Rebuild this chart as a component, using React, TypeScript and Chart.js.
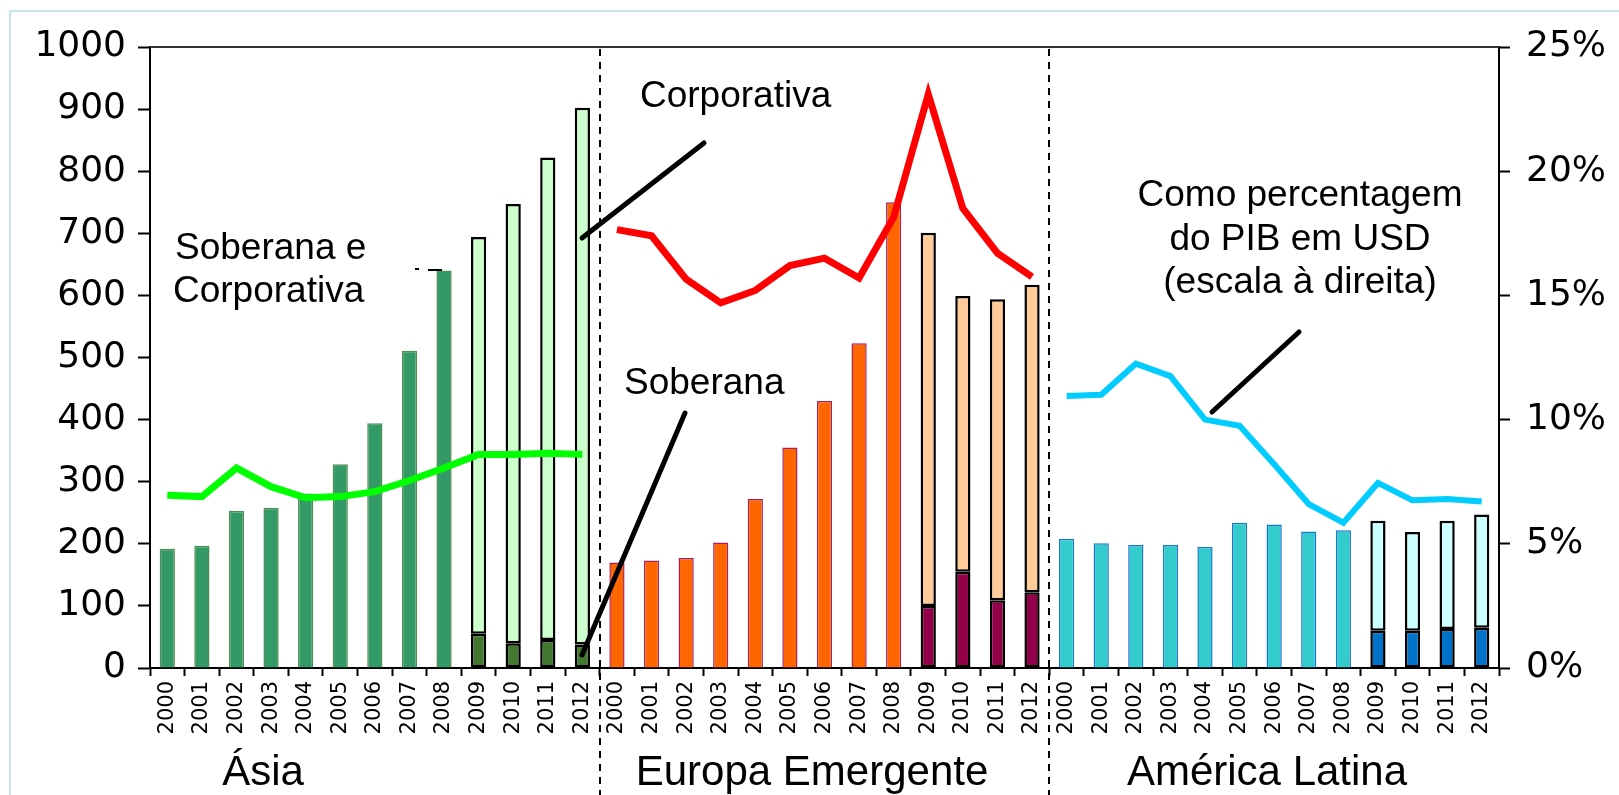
import React, { useEffect, useRef } from 'react';
import { Chart, registerables } from 'chart.js';

Chart.register(...registerables);

// ---------- DATA ----------
const years = ['2000', '2001', '2002', '2003', '2004', '2005', '2006', '2007', '2008', '2009', '2010', '2011', '2012'];
const regionNames = ['Ásia', 'Europa Emergente', 'América Latina'];

// Total debt (left axis, USD bn)
const asiaTotal = [192, 197, 253, 258, 281, 328, 394, 511, 640, 694, 747, 822, 902];
const europeTotal = [170, 173, 177, 202, 272, 355, 430, 523, 750, 701, 599, 594, 617];
const latamTotal = [208, 201, 198, 198, 195, 234, 231, 220, 222, 237, 219, 237, 247];

// Sovereign part (only split from 2009)
const asiaSov = [null, null, null, null, null, null, null, null, null, 55, 40, 45, 38];
const europeSov = [null, null, null, null, null, null, null, null, null, 100, 155, 109, 122];
const latamSov = [null, null, null, null, null, null, null, null, null, 60, 60, 63, 65];

// As % of GDP in USD (right axis)
const asiaPct = [6.95, 6.9, 8.05, 7.3, 6.85, 6.9, 7.1, 7.55, 8.05, 8.6, 8.6, 8.65, 8.6];
const europePct = [17.65, 17.4, 15.65, 14.7, 15.2, 16.2, 16.5, 15.7, 18.15, 23.1, 18.5, 16.7, 15.75];
const latamPct = [10.95, 11.0, 12.25, 11.75, 10.0, 9.75, 8.2, 6.6, 5.85, 7.45, 6.75, 6.8, 6.7];

const leftTicks = [0, 100, 200, 300, 400, 500, 600, 700, 800, 900, 1000];
const rightTicks = [0, 5, 10, 15, 20, 25];

// ---------- STYLES ----------
const palette = [
  { total: '#339966', totalBorder: '#4b8f4f', sov: '#43782f', corp: '#ccffcc', line: '#00ff00' },
  { total: '#ff6600', totalBorder: '#a3235f', sov: '#930049', corp: '#ffcc99', line: '#ff0000' },
  { total: '#33cccc', totalBorder: '#1a78cc', sov: '#0072c9', corp: '#ccffff', line: '#00ccff' },
];

const totals = [asiaTotal, europeTotal, latamTotal];
const sovs = [asiaSov, europeSov, latamSov];
const pcts = [asiaPct, europePct, latamPct];

const labels: string[] = [];
regionNames.forEach(() => years.forEach((y) => labels.push(y)));

function buildDatasets() {
  const preData: (number | null)[] = [];
  const sovData: (number | null)[] = [];
  const corpData: (number | null)[] = [];
  const preBg: string[] = [];
  const preBorder: string[] = [];
  const sovBg: string[] = [];
  const corpBg: string[] = [];
  totals.forEach((tot, r) => {
    tot.forEach((v, i) => {
      const s = sovs[r][i];
      if (s === null) {
        preData.push(v);
        sovData.push(null);
        corpData.push(null);
      } else {
        preData.push(null);
        sovData.push(s);
        corpData.push(v - s);
      }
      preBg.push(palette[r].total);
      preBorder.push(palette[r].totalBorder);
      sovBg.push(palette[r].sov);
      corpBg.push(palette[r].corp);
    });
  });

  const lineSets = pcts.map((p, r) => {
    const data: (number | null)[] = [];
    pcts.forEach((_, rr) => p.forEach((v) => data.push(rr === r ? v : null)));
    return {
      type: 'line' as const,
      label: regionNames[r] + ' %',
      data,
      yAxisID: 'y1',
      borderColor: palette[r].line,
      backgroundColor: palette[r].line,
      borderWidth: r === 2 ? 6 : 7,
      pointRadius: 0,
      tension: 0,
      spanGaps: false,
      order: 0,
      stack: 'lines' + r,
    };
  });

  const common = { barPercentage: 0.44, categoryPercentage: 1, yAxisID: 'y', order: 1, stack: 'bars' };
  return [
    {
      type: 'bar' as const,
      label: 'Soberana e Corporativa',
      data: preData,
      backgroundColor: preBg,
      borderColor: preBorder,
      borderWidth: 1.5,
      borderSkipped: 'bottom',
      ...common,
    },
    {
      type: 'bar' as const,
      label: 'Soberana',
      data: sovData,
      backgroundColor: sovBg,
      borderColor: '#000',
      borderWidth: 2.5,
      borderSkipped: false,
      ...common,
    },
    {
      type: 'bar' as const,
      label: 'Corporativa',
      data: corpData,
      backgroundColor: corpBg,
      borderColor: '#000',
      borderWidth: 2.5,
      borderSkipped: false,
      ...common,
    },
    ...lineSets,
  ];
}

const overlayPlugin = {
  id: 'overlay',
  afterDraw(chart: any) {
    const ctx: CanvasRenderingContext2D = chart.ctx;
    const { left, right, top } = chart.chartArea;
    const xs = chart.scales.x;
    const H = chart.height;
    const W = chart.width;
    ctx.save();

    // light outer frame
    ctx.strokeStyle = '#c6e4ea';
    ctx.lineWidth = 2;
    ctx.beginPath();
    ctx.moveTo(10, H);
    ctx.lineTo(10, 11);
    ctx.lineTo(W, 11);
    ctx.stroke();

    // top border of plot
    ctx.strokeStyle = '#333';
    ctx.lineWidth = 2;
    ctx.beginPath();
    ctx.moveTo(left, top);
    ctx.lineTo(right, top);
    ctx.stroke();

    // dashed separators between regions
    ctx.strokeStyle = '#000';
    ctx.lineWidth = 2;
    ctx.setLineDash([7, 6]);
    [years.length - 1, years.length * 2 - 1].forEach((i) => {
      const px = Math.round((xs.getPixelForValue(i) + xs.getPixelForValue(i + 1)) / 2);
      ctx.beginPath();
      ctx.moveTo(px, top + 2);
      ctx.lineTo(px, H);
      ctx.stroke();
    });
    ctx.setLineDash([]);

    // group labels
    ctx.fillStyle = '#000';
    ctx.font = '42px "Liberation Sans", Arial, sans-serif';
    ctx.textAlign = 'center';
    ctx.textBaseline = 'alphabetic';
    ctx.fillText(regionNames[0], 263, 785);
    ctx.fillText(regionNames[1], 812, 785);
    ctx.fillText(regionNames[2], 1267, 785);

    // annotations
    ctx.font = '37px "Liberation Sans", Arial, sans-serif';
    ctx.textAlign = 'left';
    ctx.fillText('Soberana e', 175, 259);
    ctx.fillText('Corporativa', 173, 302);
    ctx.fillText('Corporativa', 640, 107);
    ctx.fillText('Soberana', 624, 394);
    ctx.textAlign = 'center';
    ctx.fillText('Como percentagem', 1300, 206);
    ctx.fillText('do PIB em USD', 1300, 250);
    ctx.fillText('(escala à direita)', 1300, 293);

    // pointer lines
    ctx.strokeStyle = '#000';
    ctx.lineWidth = 5;
    ctx.lineCap = 'round';
    const seg = (a: number, b: number, c: number, d: number) => {
      ctx.beginPath();
      ctx.moveTo(a, b);
      ctx.lineTo(c, d);
      ctx.stroke();
    };
    seg(704, 143, 582, 238);
    seg(685, 413, 582, 655);
    seg(1299, 332, 1212, 412);

    // small leftover marks near the 2008 bar
    ctx.lineWidth = 2;
    ctx.lineCap = 'butt';
    seg(415, 269, 419, 269);
    seg(428, 270, 442, 270);

    ctx.restore();
  },
};

export default function App() {
  const canvasRef = useRef<HTMLCanvasElement | null>(null);

  useEffect(() => {
    const canvas = canvasRef.current;
    if (!canvas) return;
    const chart = new Chart(canvas, {
      type: 'bar',
      data: { labels, datasets: buildDatasets() as any },
      options: {
        responsive: false,
        animation: false,
        devicePixelRatio: 1,
        layout: { padding: { top: 47, left: 0, right: 0, bottom: 0 } },
        plugins: { legend: { display: false }, tooltip: { enabled: false }, title: { display: false } },
        scales: {
          x: {
            type: 'category',
            stacked: true,
            offset: true,
            grid: {
              display: true,
              drawOnChartArea: false,
              drawTicks: true,
              tickLength: 8,
              tickWidth: 2,
              color: '#000',
              offset: true,
            },
            border: { display: true, color: '#000', width: 2 },
            ticks: {
              autoSkip: false,
              maxRotation: 90,
              minRotation: 90,
              padding: 5,
              color: '#000',
              font: { family: '"DejaVu Sans", Verdana, sans-serif', size: 21 },
            },
            afterFit: (s: any) => {
              s.height = 127;
            },
          },
          y: {
            type: 'linear',
            position: 'left',
            stacked: true,
            min: leftTicks[0],
            max: leftTicks[leftTicks.length - 1],
            afterBuildTicks: (s: any) => {
              s.ticks = leftTicks.map((v) => ({ value: v }));
            },
            grid: { drawOnChartArea: false, drawTicks: true, tickLength: 12, tickWidth: 2, color: '#000' },
            border: { display: true, color: '#000', width: 2 },
            ticks: {
              padding: 12,
              color: '#000',
              font: { family: '"DejaVu Sans", Verdana, sans-serif', size: 36 },
              callback: (v: any) => String(v),
            },
            afterFit: (s: any) => {
              s.width = 150;
            },
          },
          y1: {
            type: 'linear',
            position: 'right',
            stacked: false,
            min: rightTicks[0],
            max: rightTicks[rightTicks.length - 1],
            afterBuildTicks: (s: any) => {
              s.ticks = rightTicks.map((v) => ({ value: v }));
            },
            grid: { drawOnChartArea: false, drawTicks: true, tickLength: 11, tickWidth: 2, color: '#000' },
            border: { display: true, color: '#000', width: 2 },
            ticks: {
              padding: 16,
              color: '#000',
              font: { family: '"DejaVu Sans", Verdana, sans-serif', size: 36 },
              callback: (v: any) => `${v}%`,
            },
            afterFit: (s: any) => {
              s.width = 120;
            },
          },
        },
      },
      plugins: [overlayPlugin],
    });
    return () => chart.destroy();
  }, []);

  return (
    <div style={{ position: 'fixed', left: 0, top: 0, width: 1619, height: 795, overflow: 'hidden', background: '#fff' }}>
      <canvas ref={canvasRef} width={1619} height={795} style={{ display: 'block', width: 1619, height: 795 }} />
    </div>
  );
}
